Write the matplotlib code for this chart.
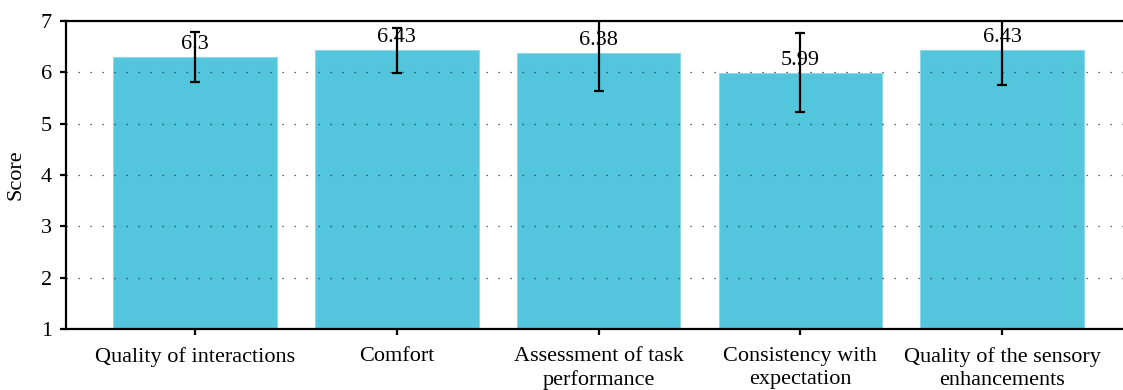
import matplotlib
matplotlib.use("Agg")
import matplotlib.pyplot as plt
import numpy as np

categories = ["Quality of interactions", "Comfort", "Assessment of task\nperformance",
              "Consistency with\nexpectation", "Quality of the sensory\nenhancements"]
scores = [6.30, 6.43, 6.38, 5.99, 6.43]
errors = [0.48, 0.44, 0.74, 0.77, 0.68]
labels = ["6.3", "6.43", "6.38", "5.99", "6.43"]
yticks = [1, 2, 3, 4, 5, 6, 7]

plt.rcParams['font.family'] = ['Liberation Serif', 'DejaVu Serif']
plt.rcParams['font.size'] = 16

fig = plt.figure(figsize=(11.23, 3.90), dpi=100)
ax = fig.add_axes([66/1123, 1-329/390, 1-66/1123, (329-21)/390])

x = np.arange(len(categories))
ax.bar(x, scores, width=0.81, bottom=0, color="#53C6DE", edgecolor="#8ED8E8",
       linewidth=0.8, zorder=1)
for y in yticks[1:-1]:
    ax.axhline(y, color="#333333", linewidth=0.9, linestyle=(0, (1, 8.6)), zorder=2)
ax.errorbar(x, scores, yerr=errors, fmt="none", ecolor="black", elinewidth=1.6,
            capsize=3.5, capthick=1.6, zorder=4)
for xi, s, lab in zip(x, scores, labels):
    ax.annotate(lab, (xi, s), xytext=(0, 2), textcoords="offset points",
                ha="center", va="bottom", fontsize=16, zorder=3)

ax.set_ylim(1, 7)
ax.set_xlim(-0.64, 4.6)
ax.set_yticks(yticks)
ax.set_xticks(x)
ax.set_xticklabels(categories, linespacing=1.3)
ax.set_ylabel("Score", fontsize=16)
ax.yaxis.set_label_coords(-0.038, 0.5)

for sp in ["left", "top", "bottom"]:
    ax.spines[sp].set_linewidth(1.6)
ax.spines["right"].set_visible(False)
ax.tick_params(axis="both", direction="out", width=1.6, length=4, labelsize=16)
ax.tick_params(axis="x", length=4, pad=9)
ax.tick_params(axis="y", pad=6)

fig.savefig("out.png", dpi=100)
